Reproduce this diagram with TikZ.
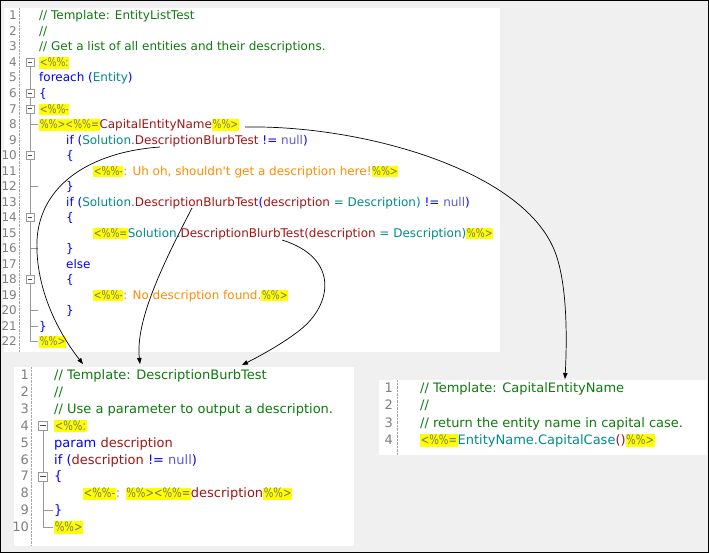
\documentclass[tikz,border=0pt]{standalone}
\usepackage{fontspec}
\usepackage{graphicx}
\setmainfont{DejaVu Sans}
\usetikzlibrary{arrows.meta}
\definecolor{bgc}{HTML}{F0F0F0}
\definecolor{cmt}{HTML}{0F7A0F}
\definecolor{kwc}{HTML}{0000FF}
\definecolor{tyc}{HTML}{008B8B}
\definecolor{fnc}{HTML}{A31515}
\definecolor{nuc}{HTML}{5B5BD6}
\definecolor{orc}{HTML}{FF8C00}
\definecolor{hly}{HTML}{FFFF00}
\definecolor{hlt}{HTML}{7A7A5A}
\definecolor{lnc}{HTML}{7F7F7F}
\definecolor{fold}{HTML}{999999}
\newcommand\Cc[1]{\textcolor{cmt}{#1}}
\newcommand\Ck[1]{\textcolor{kwc}{#1}}
\newcommand\Ct[1]{\textcolor{tyc}{#1}}
\newcommand\Cf[1]{\textcolor{fnc}{#1}}
\newcommand\Cn[1]{\textcolor{nuc}{#1}}
\newcommand\Co[1]{\textcolor{orc}{#1}}
\newcommand\hl[1]{{\setlength\fboxsep{0.6pt}\colorbox{hly}{\color{hlt}\rule[-0.13em]{0pt}{0.8em}\scalebox{0.78}[1]{#1}}}}
\newcommand\topfont{\fontsize{12}{15}\selectfont}
\newcommand\botfont{\fontsize{13}{16}\selectfont}
% baselines
\newcommand\tb[1]{{19.9+(#1-1)*15.52}}
\newcommand\tc[1]{{15.7+(#1-1)*15.52}}
\newcommand\lb[1]{{379.5+(#1-1)*16.9}}
\newcommand\lc[1]{{375+(#1-1)*16.9}}
\newcommand\rb[1]{{392.5+(#1-1)*17.3}}
\tikzset{
  tline/.style={anchor=base west, inner sep=0pt, font=\topfont},
  bline/.style={anchor=base west, inner sep=0pt, font=\botfont},
  tnum/.style={anchor=base east, inner sep=0pt, font=\topfont, text=lnc},
  bnum/.style={anchor=base east, inner sep=0pt, font=\botfont, text=lnc},
  foldbox/.style={draw=fold, fill=white, minimum size=#1, inner sep=0pt,
    path picture={\draw[black!70, line width=0.8pt]
      ([xshift=-0.3*#1]path picture bounding box.center) --
      ([xshift=0.3*#1]path picture bounding box.center);}},
  foldline/.style={draw=fold, line width=0.8pt},
  conn/.style={draw=black, line width=0.7pt, -{Triangle[length=6pt,width=4.5pt]}},
}
\begin{document}
\begin{tikzpicture}[x=1pt,y=-1pt]
\useasboundingbox (0,0) rectangle (709,553);
\fill[bgc] (0,0) rectangle (709,553);
\draw[black, line width=1pt] (0.5,0.5) rectangle (708.5,552.5);
% panels
\fill[white] (4,8) rectangle (500,352);
\fill[white] (14,367) rectangle (354,546);
\fill[white] (379,380) rectangle (707,455);
\draw[densely dotted, black!35] (19,8) -- (19,352);
\draw[densely dotted, black!35] (31,367) -- (31,546);
\draw[densely dotted, black!35] (397,380) -- (397,455);

% ---------- top panel ----------
\foreach \i in {1,...,22} \node[tnum] (tn\i) at (17,\tb{\i}) {\i};
\draw[foldline] (30,\tc{4}) -- (30,\tc{22});
\foreach \i in {8,12,16,20,21,22} \draw[foldline] (30,\tc{\i}) -- (38,\tc{\i});
\foreach \i in {4,6,7,10,14,18} \node[foldbox=8pt] (tf\i) at (30,\tc{\i}) {};

\node[tline] (t1) at (39,\tb{1}) {\Cc{// Template: EntityListTest}};
\node[tline] (t2) at (39,\tb{2}) {\Cc{//}};
\node[tline] (t3) at (39,\tb{3}) {\Cc{// Get a list of all entities and their descriptions.}};
\node[tline] (t4) at (39,\tb{4}) {\hl{<\%\%:}};
\node[tline] (t5) at (39,\tb{5}) {\Ck{foreach (}\Ct{Entity}\Ck{)}};
\node[tline] (t6) at (39,\tb{6}) {\Ck{\{}};
\node[tline] (t7) at (39,\tb{7}) {\hl{<\%\%-}};
\node[tline] (t8) at (39,\tb{8}) {\hl{\%\%><\%\%=}\Cf{CapitalEntityName}\hl{\%\%>}};
\node[tline] (t9) at (66,\tb{9}) {\Ck{if (}\Ct{Solution.}\Cf{DescriptionBlurbTest} \Ck{!=} \Cn{null}\Ck{)}};
\node[tline] (t10) at (66,\tb{10}) {\Ck{\{}};
\node[tline] (t11) at (93,\tb{11}) {\hl{<\%\%-}\Co{: Uh oh, shouldn\textquotesingle t get a description here!}\hl{\%\%>}};
\node[tline] (t12) at (66,\tb{12}) {\Ck{\}}};
\node[tline] (t13) at (66,\tb{13}) {\Ck{if (}\Ct{Solution.}\Cf{DescriptionBlurbTest}\Ck{(}\Cf{description} \Ct{= Description)} \Ck{!=} \Cn{null}\Ck{)}};
\node[tline] (t14) at (66,\tb{14}) {\Ck{\{}};
\node[tline] (t15) at (93,\tb{15}) {\hl{<\%\%=}\Ct{Solution.}\Cf{DescriptionBlurbTest(description} \Ct{= Description)}\hl{\%\%>}};
\node[tline] (t16) at (66,\tb{16}) {\Ck{\}}};
\node[tline] (t17) at (66,\tb{17}) {\Ck{else}};
\node[tline] (t18) at (66,\tb{18}) {\Ck{\{}};
\node[tline] (t19) at (93,\tb{19}) {\hl{<\%\%-}\Co{: No description found.}\hl{\%\%>}};
\node[tline] (t20) at (66,\tb{20}) {\Ck{\}}};
\node[tline] (t21) at (39,\tb{21}) {\Ck{\}}};
\node[tline] (t22) at (39,\tb{22}) {\hl{\%\%>}};

% ---------- bottom-left panel ----------
\foreach \i in {1,...,10} \node[bnum] (ln\i) at (29,\lb{\i}) {\i};
\draw[foldline] (43,\lc{4}) -- (43,\lc{10});
\foreach \i in {9,10} \draw[foldline] (43,\lc{\i}) -- (53,\lc{\i});
\foreach \i in {4,7} \node[foldbox=9pt] (lf\i) at (43,\lc{\i}) {};

\node[bline] (l1) at (54,\lb{1}) {\Cc{// Template: DescriptionBurbTest}};
\node[bline] (l2) at (54,\lb{2}) {\Cc{//}};
\node[bline] (l3) at (54,\lb{3}) {\Cc{// Use a parameter to output a description.}};
\node[bline] (l4) at (54,\lb{4}) {\hl{<\%\%:}};
\node[bline] (l5) at (54,\lb{5}) {\Ck{param} \Cf{description}};
\node[bline] (l6) at (54,\lb{6}) {\Ck{if (}\Cf{description} \Ck{!=} \Cn{null}\Ck{)}};
\node[bline] (l7) at (54,\lb{7}) {\Ck{\{}};
\node[bline] (l8) at (83,\lb{8}) {\hl{<\%\%-}\Co{:} \hl{\%\%><\%\%=}\Cf{description}\hl{\%\%>}};
\node[bline] (l9) at (54,\lb{9}) {\Ck{\}}};
\node[bline] (l10) at (54,\lb{10}) {\hl{\%\%>}};

% ---------- bottom-right panel ----------
\foreach \i in {1,...,4} \node[bnum] (rn\i) at (393,\rb{\i}) {\i};
\node[bline] (r1) at (420,\rb{1}) {\Cc{// Template: CapitalEntityName}};
\node[bline] (r2) at (420,\rb{2}) {\Cc{//}};
\node[bline] (r3) at (420,\rb{3}) {\Cc{// return the entity name in capital case.}};
\node[bline] (r4) at (420,\rb{4}) {\hl{<\%\%=}\Ct{EntityName.CapitalCase}\Cf{()}\hl{\%\%>}};

% ---------- connectors ----------
\coordinate (s8) at (245,127);
\coordinate (s9) at (160,147);
\coordinate (s13) at (192,208);
\coordinate (s15) at (282,240);
\coordinate (eR) at (565,379);
\coordinate (eL1) at (83,364);
\coordinate (eL2) at (140,364);
\coordinate (eL3) at (242,365);

\draw[conn] (s8) .. controls (360,125) and (515,168) .. (552,245)
  .. controls (568,277) and (567,340) .. (eR);
\draw[conn] (s9) .. controls (90,152) and (40,185) .. (37,240)
  .. controls (35,290) and (60,335) .. (eL1);
\draw[conn] (s13) .. controls (165,260) and (135,320) .. (eL2);
\draw[conn] (s15) .. controls (340,258) and (332,305) .. (300,330)
  .. controls (285,342) and (262,355) .. (eL3);
\end{tikzpicture}
\end{document}
